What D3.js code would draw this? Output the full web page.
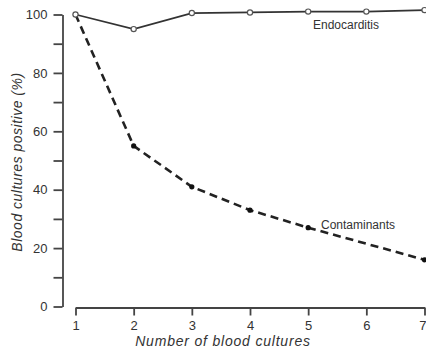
<!DOCTYPE html>
<html>
<head>
<meta charset="utf-8">
<script src="https://cdn.jsdelivr.net/npm/d3@7"></script>
<style>
  html, body { margin: 0; padding: 0; background: #fff; }
  svg { display: block; }
  text { font-family: "Liberation Sans", Arial, sans-serif; fill: #333; }
</style>
</head>
<body>
<svg id="chart" width="426" height="348"></svg>
<script>
const cultures = [1, 2, 3, 4, 5, 6, 7];
const endocarditisX = [1, 2, 3, 4, 5, 6, 7];
const endocarditisY = [100, 95, 100.5, 100.7, 101, 101, 101.5];
const contaminantsX = [1, 2, 3, 4, 5, 7];
const contaminantsY = [100, 55, 41, 33, 27, 16];
const yTicks = [0, 10, 20, 30, 40, 50, 60, 70, 80, 90, 100];
const yLabelTicks = [0, 20, 40, 60, 80, 100];
const seriesLabels = ["Endocarditis", "Contaminants"];
const xTitle = "Number of blood cultures";
const yTitle = "Blood cultures positive (%)";

const svg = d3.select("#chart");
const x = d3.scaleLinear().domain([1, 7]).range([75.5, 424.5]);
const y = d3.scaleLinear().domain([0, 100]).range([306.5, 14.5]);

const axisColor = "#444";

// Y axis
const yAxis = d3.axisLeft(y)
  .tickValues(yTicks)
  .tickSize(9)
  .tickSizeOuter(0)
  .tickPadding(6)
  .tickFormat(d => yLabelTicks.includes(d) ? d : "");
const gy = svg.append("g").attr("transform", "translate(62.5,0)").call(yAxis);
gy.select(".domain").attr("stroke", axisColor).attr("stroke-width", 1.8);
gy.selectAll(".tick line").attr("stroke", axisColor).attr("stroke-width", 1.8);
gy.selectAll(".tick text").attr("font-size", 13).attr("fill", "#333")
  .attr("font-family", "Liberation Sans, Arial, sans-serif");

// X axis
const xAxis = d3.axisBottom(x)
  .tickValues(cultures)
  .tickSize(8)
  .tickSizeOuter(0)
  .tickPadding(5)
  .tickFormat(d3.format("d"));
const gx = svg.append("g").attr("transform", "translate(0,307.5)").call(xAxis);
gx.select(".domain").attr("stroke", axisColor).attr("stroke-width", 1.8);
gx.selectAll(".tick line").attr("stroke", axisColor).attr("stroke-width", 1.8);
gx.selectAll(".tick text").attr("font-size", 13).attr("fill", "#333")
  .attr("font-family", "Liberation Sans, Arial, sans-serif");
gx.selectAll(".tick text").filter(d => d === 7)
  .attr("text-anchor", "end").attr("dx", 1.5);

// Axis titles
svg.append("text")
  .attr("x", 223).attr("y", 346)
  .attr("text-anchor", "middle")
  .attr("font-size", 14)
  .attr("letter-spacing", 0.8)
  .attr("font-style", "italic")
  .text(xTitle);
svg.append("text")
  .attr("transform", "translate(22,162) rotate(-90)")
  .attr("text-anchor", "middle")
  .attr("font-size", 14)
  .attr("letter-spacing", 0.5)
  .attr("font-style", "italic")
  .text(yTitle);

// Lines
const endoData = endocarditisX.map((v, i) => [v, endocarditisY[i]]);
const contData = contaminantsX.map((v, i) => [v, contaminantsY[i]]);
const line = d3.line().x(d => x(d[0])).y(d => y(d[1]));

svg.append("path").datum(contData)
  .attr("d", line)
  .attr("fill", "none")
  .attr("stroke", "#222")
  .attr("stroke-width", 2.6)
  .attr("stroke-dasharray", "8,5");

svg.append("path").datum(endoData)
  .attr("d", line)
  .attr("fill", "none")
  .attr("stroke", "#333")
  .attr("stroke-width", 1.8);

svg.selectAll("circle.cont").data(contData).enter().append("circle")
  .attr("class", "cont")
  .attr("cx", d => x(d[0])).attr("cy", d => y(d[1]))
  .attr("r", 2.6).attr("fill", "#111");

svg.selectAll("circle.endo").data(endoData).enter().append("circle")
  .attr("class", "endo")
  .attr("cx", d => x(d[0])).attr("cy", d => y(d[1]))
  .attr("r", 2.6).attr("fill", "#fff").attr("stroke", "#555").attr("stroke-width", 1.2);

// Series labels
svg.append("text").attr("x", 313).attr("y", 29).attr("font-size", 12).text(seriesLabels[0]);
svg.append("text").attr("x", 321).attr("y", 229).attr("font-size", 12).text(seriesLabels[1]);
</script>
</body>
</html>
